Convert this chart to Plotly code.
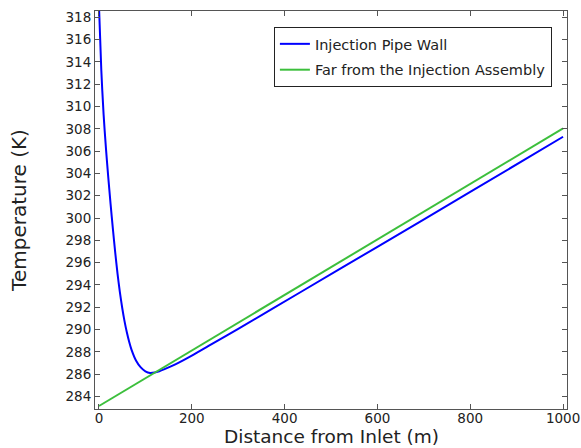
import plotly.graph_objects as go

# Distance from inlet (m) and temperatures (K)
wall_x = [0, 5, 10, 15, 20, 25, 30, 35, 40, 45, 50, 55, 60, 65, 70, 80, 90, 100, 110,
          120, 130, 140, 155, 174, 200, 239, 300, 433, 600, 800, 1000]
wall_T = [319.0, 313.25, 309.25, 306.25, 303.65, 301.25, 299.0, 296.9, 295.0, 293.35,
          291.95, 290.75, 289.75, 288.9, 288.2, 287.2, 286.6, 286.25, 286.1,
          286.14, 286.26, 286.42, 286.70, 287.08, 287.66, 288.59, 290.06, 293.32,
          297.42, 302.34, 307.29]

far_x = [0, 250, 500, 750, 1000]
far_T = [283.14, 289.37, 295.59, 301.82, 308.04]

x_ticks = [0, 200, 400, 600, 800, 1000]
y_ticks = list(range(284, 319, 2))

FONT = "DejaVu Sans"
M_L, M_R, M_T, M_B = 95, 14, 11, 39
PLOT_H = 448 - M_T - M_B

fig = go.Figure()
fig.add_trace(go.Scatter(x=wall_x, y=wall_T, mode="lines", name="Injection Pipe Wall",
                         legendgroup="a",
                         line=dict(color="#0000ff", width=2, shape="spline", smoothing=0.8)))
fig.add_trace(go.Scatter(x=far_x, y=far_T, mode="lines", name="Far from the Injection Assembly",
                         legendgroup="b",
                         line=dict(color="#3cbf3c", width=2)))

axis_common = dict(showgrid=False, zeroline=False, showline=True, linecolor="#555555",
                   linewidth=1, mirror="ticks", ticks="inside", ticklen=5,
                   tickcolor="#555555", automargin=False,
                   tickfont=dict(family=FONT, size=13.5, color="#222222"))

fig.update_xaxes(range=[-8.6, 1008.5], tickvals=x_ticks, ticklabelstandoff=-3,
                 **axis_common)
fig.update_yaxes(range=[282.87, 318.57], tickvals=y_ticks,
                 title=dict(text="Temperature (K)", font=dict(family=FONT, size=20, color="#222222"),
                            standoff=33),
                 **axis_common)

# x-axis title placed at the bottom edge of the figure
fig.add_annotation(text="Distance from Inlet (m)", xref="paper", yref="paper",
                   x=0.5, y=-M_B / PLOT_H, xanchor="center", yanchor="bottom",
                   showarrow=False, borderpad=0,
                   font=dict(family=FONT, size=18.5, color="#222222"))

fig.update_layout(
    width=581, height=448,
    margin=dict(l=M_L, r=M_R, t=M_T, b=M_B),
    paper_bgcolor="white", plot_bgcolor="white",
    font=dict(family=FONT, size=14, color="#222222"),
    legend=dict(x=0.968, y=0.96, xanchor="right", yanchor="top",
                bgcolor="white", bordercolor="#222222", borderwidth=1,
                tracegroupgap=4,
                font=dict(family=FONT, size=14.5, color="#222222")),
)

fig.write_html("out.html")
